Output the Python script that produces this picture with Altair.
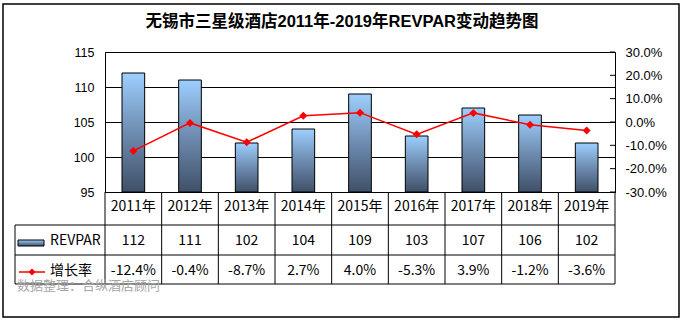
import altair as alt
import pandas as pd

# ---------------- data ----------------
title_text = "无锡市三星级酒店2011年-2019年REVPAR变动趋势图"
years = ["2011年", "2012年", "2013年", "2014年", "2015年", "2016年", "2017年", "2018年", "2019年"]
revpar = [112, 111, 102, 104, 109, 103, 107, 106, 102]
growth = [-0.124, -0.004, -0.087, 0.027, 0.040, -0.053, 0.039, -0.012, -0.036]
left_ticks = [95, 100, 105, 110, 115]
right_ticks = [-0.3, -0.2, -0.1, 0.0, 0.1, 0.2, 0.3]
row_names = ["REVPAR", "增长率"]
source_note = "数据整理：合纵酒店顾问"

df = pd.DataFrame({"year": years, "revpar": revpar, "growth": growth})
df["revpar_label"] = [str(v) for v in revpar]
df["growth_label"] = [f"{g * 100:.1f}%" for g in growth]
one = pd.DataFrame({"k": [0]})

# ---------------- styles ----------------
AX_FONT = "Liberation Sans"
TB_FONT = "Noto Sans CJK SC"
RED = "#FF0000"
bar_grad = alt.Gradient(
    gradient="linear",
    stops=[alt.GradientStop(color="#9DCFFF", offset=0),
           alt.GradientStop(color="#6E8CB0", offset=0.5),
           alt.GradientStop(color="#3F5068", offset=1)],
    x1=0, x2=0, y1=0, y2=1,
)

W, H = 510, 140
xscale = alt.Scale(domain=years, paddingInner=0.6, paddingOuter=0.3)
X = alt.X("year:N", scale=xscale, axis=None, sort=years)

# ---------------- main plot ----------------
bars = alt.Chart(df).mark_bar(color=bar_grad, stroke="black", strokeWidth=1).encode(
    x=X,
    y=alt.Y("revpar:Q",
            scale=alt.Scale(domain=[95, 115], zero=False, nice=False),
            axis=alt.Axis(values=left_ticks, grid=True, gridColor="black", gridWidth=1,
                          ticks=False, tickSize=0, domain=False, title=None,
                          labelOverlap=False,
                          labelFont=AX_FONT, labelFontSize=12.5, labelColor="black",
                          labelPadding=11)),
    y2=alt.datum(95),
)

right_scale = alt.Scale(domain=[-0.3, 0.3], nice=False, zero=False)
right_axis = alt.Axis(orient="right", values=right_ticks, grid=False, ticks=False,
                      tickSize=0, domain=False, title=None, labelOverlap=False,
                      labelBound=False, labelFlush=False,
                      labelExpr="replace(format(datum.value, '.1%'), '\u2212', '-')",
                      labelFont=AX_FONT, labelFontSize=13, labelColor="black",
                      labelPadding=10)

line = alt.Chart(df).mark_line(color=RED, strokeWidth=1.5).encode(
    x=X, y=alt.Y("growth:Q", scale=right_scale, axis=right_axis),
)
points = alt.Chart(df).mark_point(shape="diamond", filled=True, color=RED, size=64, opacity=1).encode(
    x=X, y=alt.Y("growth:Q", scale=right_scale, axis=right_axis),
)
rticks = alt.Chart(pd.DataFrame({"growth": right_ticks})).mark_rule(color="black").encode(
    x=alt.value(W - 5), x2=alt.value(W), y=alt.Y("growth:Q", scale=right_scale, axis=right_axis),
)
right = alt.layer(line, points, rticks)

# ---------------- data table ----------------
txt = dict(font=TB_FONT, fontSize=14, color="black", baseline="middle", align="center")
t_year = alt.Chart(df).mark_text(**txt).encode(x=X, y=alt.value(155), text="year:N")
t_rev = alt.Chart(df).mark_text(**txt).encode(x=X, y=alt.value(189), text="revpar_label:N")
t_gro = alt.Chart(df).mark_text(**txt).encode(x=X, y=alt.value(219), text="growth_label:N")

vsep = alt.Chart(df).mark_rule(color="black", xOffset=-17).encode(
    x=alt.X("year:N", scale=xscale, axis=None, sort=years, bandPosition=0),
    y=alt.value(H), y2=alt.value(232),
)
frame_lines = alt.Chart(pd.DataFrame({
    "x": [W, -90, -90, -90, -90],
    "x2": [W, -90, W, W, W],
    "y": [H, 173, 173, 203, 232],
    "y2": [232, 232, 173, 203, 232],
})).mark_rule(color="black").encode(
    x=alt.X("x:Q", scale=None), x2="x2:Q",
    y=alt.Y("y:Q", scale=None), y2="y2:Q",
)

leg_rect = alt.Chart(one).mark_rect(color=bar_grad, stroke="black", strokeWidth=1).encode(
    x=alt.value(-87), x2=alt.value(-61), y=alt.value(188), y2=alt.value(194),
)
leg_line = alt.Chart(one).mark_rule(color=RED, strokeWidth=1.5).encode(
    x=alt.value(-86), x2=alt.value(-60), y=alt.value(220),
)
leg_pt = alt.Chart(one).mark_point(shape="diamond", filled=True, color=RED, size=50, opacity=1).encode(
    x=alt.value(-73), y=alt.value(220),
)
leg_t1 = alt.Chart(one).mark_text(font=TB_FONT, fontSize=14, color="black", baseline="middle", align="left").encode(
    x=alt.value(-55), y=alt.value(189), text=alt.value(row_names[0]))
leg_t2 = alt.Chart(one).mark_text(font=TB_FONT, fontSize=14, color="black", baseline="middle", align="left").encode(
    x=alt.value(-55), y=alt.value(219), text=alt.value(row_names[1]))

note = alt.Chart(one).mark_text(font=TB_FONT, fontSize=13, color="#A6A6A6", baseline="middle", align="left").encode(
    x=alt.value(-88), y=alt.value(234), text=alt.value(source_note))

title = alt.Chart(one).mark_text(font="Liberation Sans, Noto Sans CJK SC", fontSize=16.5, fontWeight="bold",
                                 color="black", baseline="middle", align="center").encode(
    x=alt.value(237), y=alt.value(-30), text=alt.value(title_text))

border = alt.Chart(one).mark_rect(fill="transparent", stroke="black", strokeWidth=1.5).encode(
    x=alt.value(-102), x2=alt.value(574), y=alt.value(-48), y2=alt.value(265),
)

chart = alt.layer(
    bars, right,
    vsep, frame_lines, t_year, t_rev, t_gro,
    leg_rect, leg_line, leg_pt, leg_t1, leg_t2, note, title, border,
).resolve_scale(y="independent").properties(
    width=W, height=H,
    autosize=alt.AutoSizeParams(type="none"),
    padding={"left": 105, "top": 52, "right": 67, "bottom": 131},
    background="white",
).configure_view(stroke="black", strokeWidth=1)

chart.save("out.html", embed_options={"renderer": "svg", "actions": False})
